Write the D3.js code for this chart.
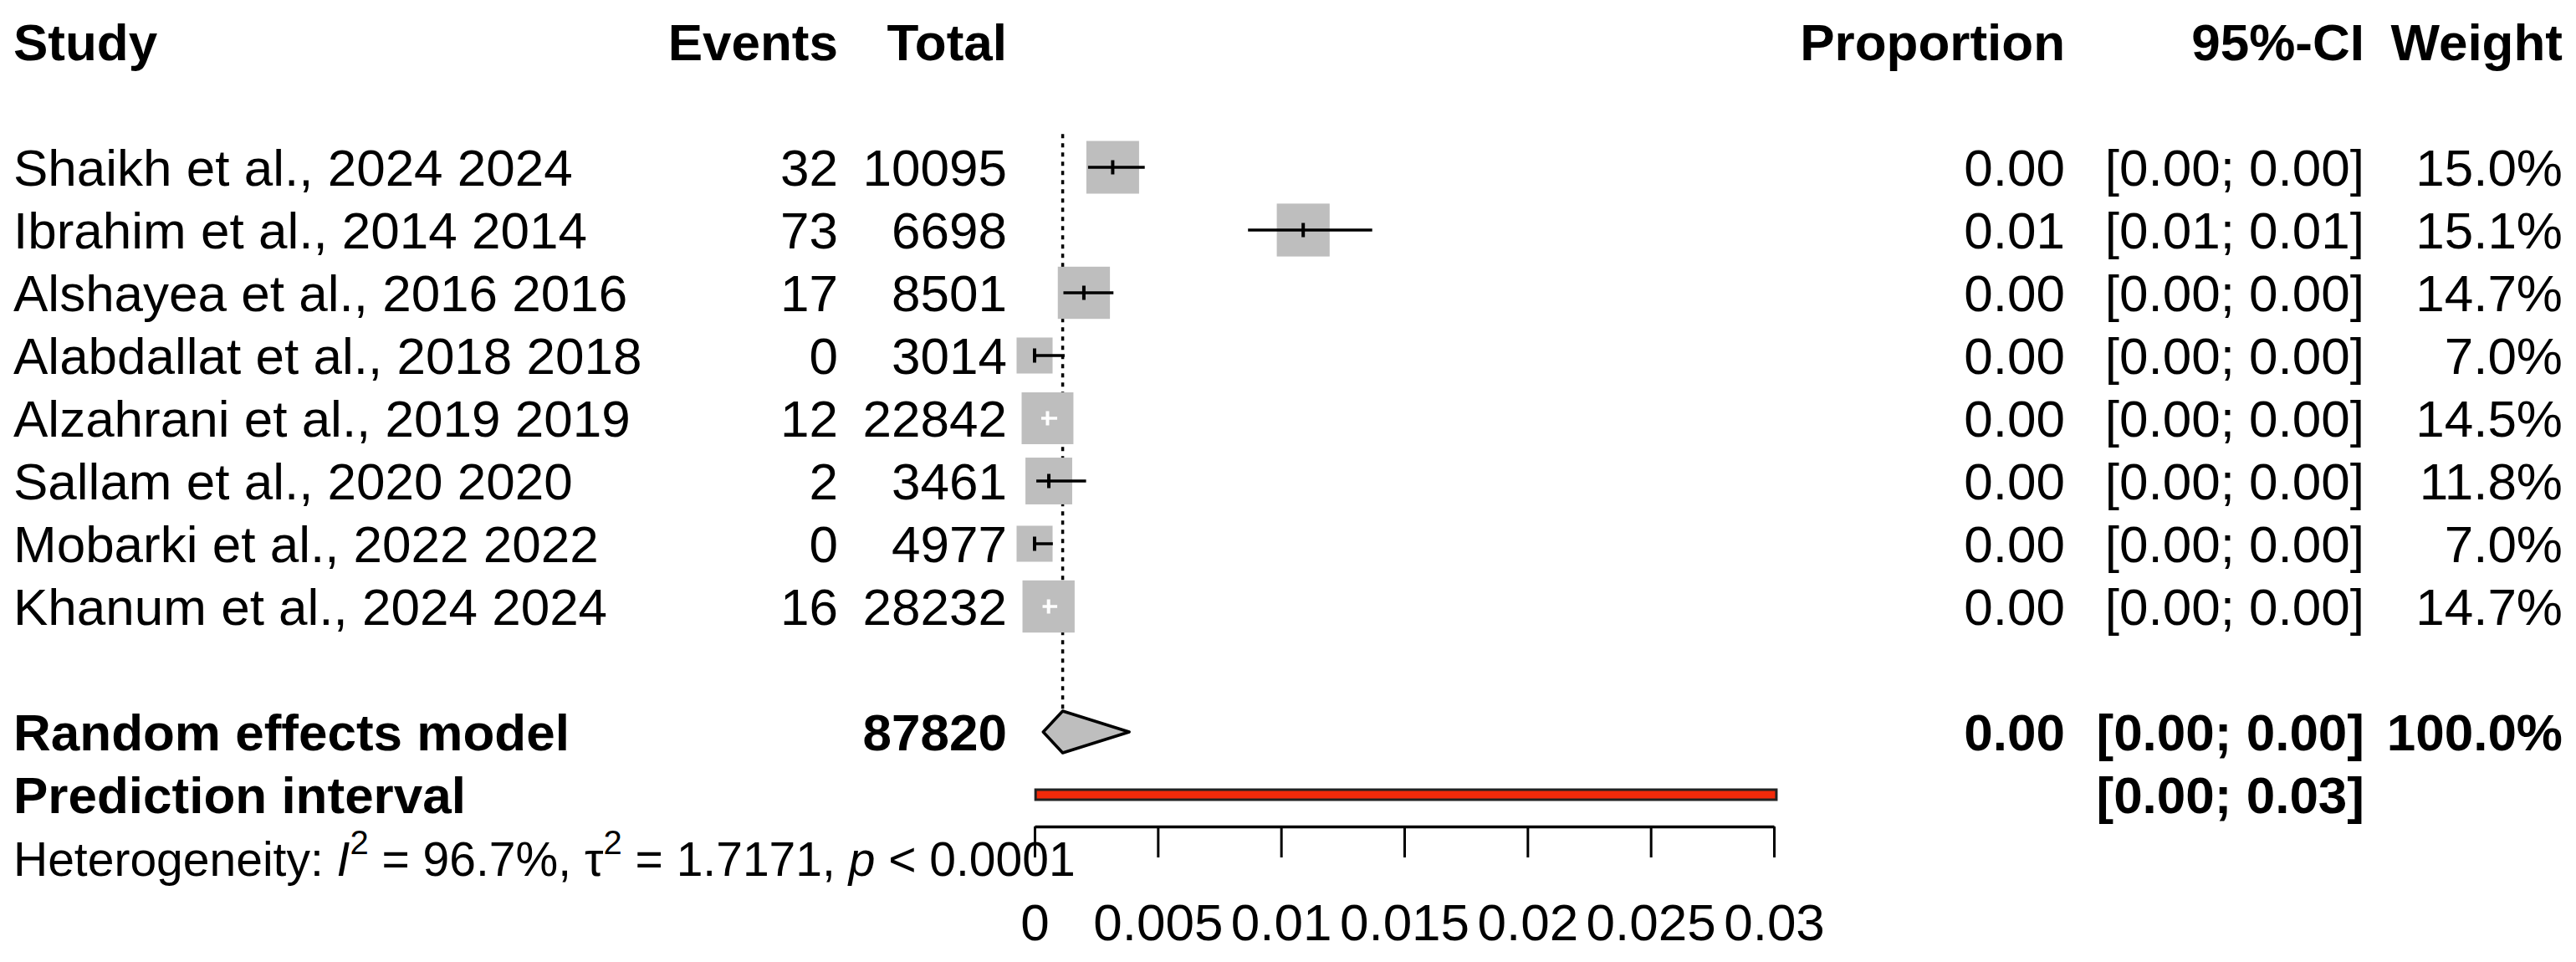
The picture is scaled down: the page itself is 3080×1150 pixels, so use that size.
<!DOCTYPE html>
<html>
<head>
<meta charset="utf-8">
<script src="https://cdn.jsdelivr.net/npm/d3@7"></script>
<style>
  body { margin: 0; background: #fff; }
  svg { display: block; font-family: "Liberation Sans", Arial, sans-serif; }
</style>
</head>
<body>
<svg id="chart" width="3080" height="1150"></svg>
<script>
// study rows
var studies = ["Shaikh et al., 2024 2024", "Ibrahim et al., 2014 2014", "Alshayea et al., 2016 2016",
  "Alabdallat et al., 2018 2018", "Alzahrani et al., 2019 2019", "Sallam et al., 2020 2020",
  "Mobarki et al., 2022 2022", "Khanum et al., 2024 2024"];
var events = ["32", "73", "17", "0", "12", "2", "0", "16"];
var totals = ["10095", "6698", "8501", "3014", "22842", "3461", "4977", "28232"];
var estimates = [0.00317, 0.0109, 0.00200, 0, 0.000525, 0.000578, 0, 0.000567];
var ciLower = [0.00217, 0.00866, 0.00117, 0, 0.000272, 0.00007, 0, 0.000324];
var ciUpper = [0.00447, 0.0137, 0.00320, 0.00122, 0.000918, 0.00209, 0.000741, 0.00092];
var weights = [15.0, 15.1, 14.7, 7.0, 14.5, 11.8, 7.0, 14.7];
var propLabels = ["0.00", "0.01", "0.00", "0.00", "0.00", "0.00", "0.00", "0.00"];
var ciLabels = ["[0.00; 0.00]", "[0.01; 0.01]", "[0.00; 0.00]", "[0.00; 0.00]",
  "[0.00; 0.00]", "[0.00; 0.00]", "[0.00; 0.00]", "[0.00; 0.00]"];
var weightLabels = ["15.0%", "15.1%", "14.7%", "7.0%", "14.5%", "11.8%", "7.0%", "14.7%"];

// pooled model + prediction interval
var pooled = [0.00035, 0.00114, 0.00384];
var predInterval = [0.00004, 0.0301];
var pooledTotal = "87820";
var pooledTexts = ["0.00", "[0.00; 0.00]", "100.0%"];
var predText = "[0.00; 0.03]";

// axis
var tickValues = [0, 0.005, 0.01, 0.015, 0.02, 0.025, 0.03];
var tickLabels = ["0", "0.005", "0.01", "0.015", "0.02", "0.025", "0.03"];

var svg = d3.select("#chart");
var fs = 62;

var x = d3.scaleLinear().domain([0, 0.03]).range([1237, 2121]);
var y = d3.scaleLinear().domain([0, 1]).range([200, 275]);
var side = d3.scaleSqrt().domain([0, 15]).range([0, 63]);

var cols = {study: 16, events: 1002, total: 1204, prop: 2469, ci: 2827, weight: 3064};

function txt(xp, row, s, anchor, bold) {
  return svg.append("text")
    .attr("x", xp)
    .attr("y", y(row) + 22)
    .attr("text-anchor", anchor)
    .attr("font-size", fs)
    .attr("font-weight", bold ? "bold" : "normal")
    .text(s);
}

// header
txt(cols.study, -2, "Study", "start", true);
txt(cols.events, -2, "Events", "end", true);
txt(cols.total, -2, "Total", "end", true);
txt(cols.prop, -2, "Proportion", "end", true);
txt(cols.ci, -2, "95%-CI", "end", true);
txt(cols.weight, -2, "Weight", "end", true);

// dotted line at pooled estimate
svg.append("line")
  .attr("x1", x(pooled[1])).attr("x2", x(pooled[1]))
  .attr("y1", y(-0.53)).attr("y2", y(9) - 26)
  .attr("stroke", "#000").attr("stroke-width", 3.5)
  .attr("stroke-dasharray", "5,6");

studies.forEach(function(s, i) {
  txt(cols.study, i, s, "start", false);
  txt(cols.events, i, events[i], "end", false);
  txt(cols.total, i, totals[i], "end", false);
  txt(cols.prop, i, propLabels[i], "end", false);
  txt(cols.ci, i, ciLabels[i], "end", false);
  txt(cols.weight, i, weightLabels[i], "end", false);

  var w = side(weights[i]);
  var cx = x(estimates[i]), cy = y(i);
  svg.append("rect")
    .attr("x", cx - w / 2).attr("y", cy - w / 2)
    .attr("width", w).attr("height", w)
    .attr("fill", "#bebebe");

  var inside = x(ciLower[i]) >= cx - w / 2 && x(ciUpper[i]) <= cx + w / 2;
  var col = inside ? "#fff" : "#000";
  svg.append("line")
    .attr("x1", x(ciLower[i])).attr("x2", x(ciUpper[i]))
    .attr("y1", cy).attr("y2", cy)
    .attr("stroke", col).attr("stroke-width", 3.5);
  svg.append("line")
    .attr("x1", cx).attr("x2", cx)
    .attr("y1", cy - 8.5).attr("y2", cy + 8.5)
    .attr("stroke", col).attr("stroke-width", 4);
});

// random effects
txt(cols.study, 9, "Random effects model", "start", true);
txt(cols.total, 9, pooledTotal, "end", true);
txt(cols.prop, 9, pooledTexts[0], "end", true);
txt(cols.ci, 9, pooledTexts[1], "end", true);
txt(cols.weight, 9, pooledTexts[2], "end", true);

var dy = y(9);
svg.append("polygon")
  .attr("points", [[x(pooled[0]), dy], [x(pooled[1]), dy - 25], [x(pooled[2]), dy], [x(pooled[1]), dy + 25]]
    .map(function(p) { return p.join(","); }).join(" "))
  .attr("fill", "#bebebe").attr("stroke", "#000").attr("stroke-width", 3.5)
  .attr("stroke-linejoin", "round");

// prediction interval
txt(cols.study, 10, "Prediction interval", "start", true);
txt(cols.ci, 10, predText, "end", true);
svg.append("rect")
  .attr("x", x(predInterval[0])).attr("y", y(10) - 6)
  .attr("width", x(predInterval[1]) - x(predInterval[0])).attr("height", 12)
  .attr("fill", "#f22a0a").attr("stroke", "#222").attr("stroke-width", 3);

// x axis
var axis = svg.append("g")
  .attr("transform", "translate(0,988)")
  .call(d3.axisBottom(x).tickValues(tickValues)
    .tickFormat(function(d, i) { return tickLabels[i]; })
    .tickSize(37).tickSizeOuter(0).tickPadding(55));
axis.select(".domain").attr("stroke", "#000").attr("stroke-width", 3.5);
axis.selectAll(".tick line").attr("stroke", "#000").attr("stroke-width", 3);
axis.selectAll(".tick text")
  .attr("font-size", fs).attr("font-family", "Liberation Sans, Arial, sans-serif")
  .attr("fill", "#000");

// heterogeneity
var het = svg.append("text")
  .attr("x", cols.study).attr("y", y(11) + 22)
  .attr("font-size", 57);
het.append("tspan").text("Heterogeneity: ");
het.append("tspan").attr("font-style", "italic").text("I");
het.append("tspan").attr("font-size", 40).attr("dy", -26).text("2");
het.append("tspan").attr("dy", 26).text(" = 96.7%, \u03c4");
het.append("tspan").attr("font-size", 40).attr("dy", -26).text("2");
het.append("tspan").attr("dy", 26).text(" = 1.7171, ");
het.append("tspan").attr("font-style", "italic").text("p");
het.append("tspan").text(" < 0.0001");
</script>
</body>
</html>
